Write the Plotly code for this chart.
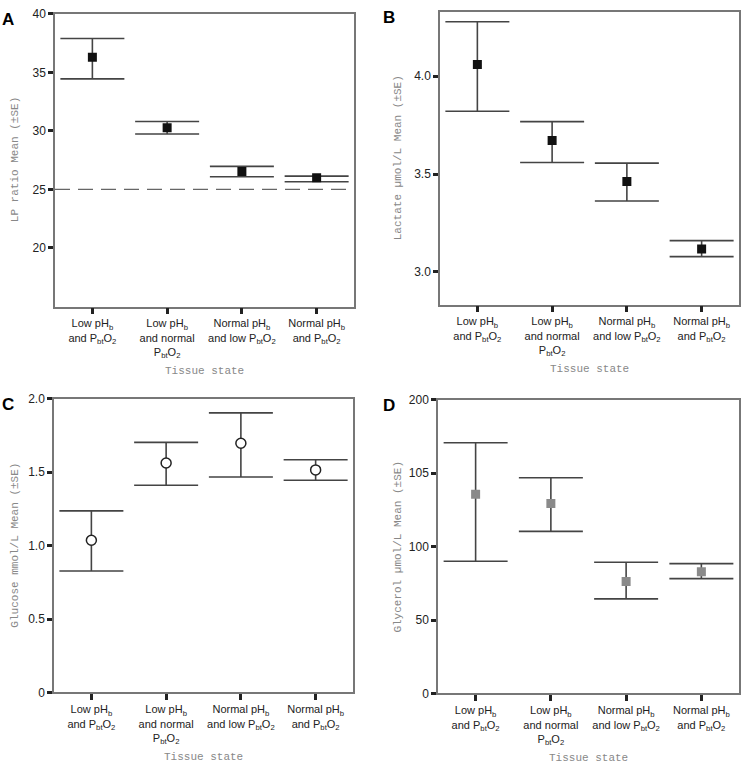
import plotly.graph_objects as go

W, H = 741, 778

categories = [
    "Low pH<sub>b</sub><br>and P<sub>bt</sub>O<sub>2</sub>",
    "Low pH<sub>b</sub><br>and normal<br>P<sub>bt</sub>O<sub>2</sub>",
    "Normal pH<sub>b</sub><br>and low P<sub>bt</sub>O<sub>2</sub>",
    "Normal pH<sub>b</sub><br>and P<sub>bt</sub>O<sub>2</sub>",
]

lp_mean = [36.3, 30.27, 26.53, 26.0]
lp_upper = [37.9, 30.8, 26.97, 26.14]
lp_lower = [34.45, 29.74, 26.08, 25.66]

lac_mean = [4.06, 3.671, 3.462, 3.117]
lac_upper = [4.279, 3.768, 3.556, 3.16]
lac_lower = [3.821, 3.559, 3.362, 3.078]

glu_mean = [1.037, 1.563, 1.697, 1.516]
glu_upper = [1.237, 1.703, 1.904, 1.585]
glu_lower = [0.827, 1.411, 1.467, 1.445]

gly_mean = [135.6, 129.3, 76.2, 82.9]
gly_upper = [170.7, 146.9, 89.3, 88.4]
gly_lower = [90.0, 110.4, 64.4, 78.2]

lp_ticks = [20, 25, 30, 35, 40]
lp_ticktext = ["20", "25", "30", "35", "40"]
lac_ticks = [3.0, 3.5, 4.0]
lac_ticktext = ["3.0", "3.5", "4.0"]
glu_ticks = [0, 0.5, 1.0, 1.5, 2.0]
glu_ticktext = ["0", "0.5", "1.0", "1.5", "2.0"]
gly_ticks = [0, 50, 100, 150, 200]
gly_ticktext = ["0", "50", "100", "105", "200"]

lp_ref = 25

panels = [
    dict(letter="A", mean=lp_mean, up=lp_upper, lo=lp_lower, rng=[15, 40],
         tv=lp_ticks, tt=lp_ticktext, ylab="LP ratio Mean (±SE)",
         px=(55, 354), py=(7, 305), marker=dict(symbol="square", size=9, color="#111")),
    dict(letter="B", mean=lac_mean, up=lac_upper, lo=lac_lower, rng=[2.833, 4.329],
         tv=lac_ticks, tt=lac_ticktext, ylab="Lactate µmol/L Mean (±SE)",
         px=(440, 739), py=(5, 303), marker=dict(symbol="square", size=9, color="#111")),
    dict(letter="C", mean=glu_mean, up=glu_upper, lo=glu_lower, rng=[0, 2.0],
         tv=glu_ticks, tt=glu_ticktext, ylab="Glucose mmol/L Mean (±SE)",
         px=(54, 353), py=(399, 698),
         marker=dict(symbol="circle", size=10, color="white", line=dict(color="#222", width=1.5))),
    dict(letter="D", mean=gly_mean, up=gly_upper, lo=gly_lower, rng=[0, 200],
         tv=gly_ticks, tt=gly_ticktext, ylab="Glycerol µmol/L Mean (±SE)",
         px=(438, 739), py=(400, 699), marker=dict(symbol="square", size=9, color="#8a8a8a")),
]

fig = go.Figure()
layout = dict(
    width=W, height=H, margin=dict(l=0, r=0, t=0, b=0),
    paper_bgcolor="white", plot_bgcolor="white", showlegend=False,
    font=dict(family="Liberation Sans, Arial, sans-serif", color="#222"),
)
annotations = []
shapes = []

for i, p in enumerate(panels):
    n = "" if i == 0 else str(i + 1)
    xa, ya = "x" + n, "y" + n
    fig.add_trace(go.Scatter(
        x=[0, 1, 2, 3], y=p["mean"], mode="markers", marker=p["marker"],
        xaxis=xa, yaxis=ya,
        error_y=dict(type="data", symmetric=False,
                     array=[u - m for u, m in zip(p["up"], p["mean"])],
                     arrayminus=[m - l for m, l in zip(p["mean"], p["lo"])],
                     color="#444", thickness=1.6, width=32),
    ))
    x0, x1 = p["px"]
    y0, y1 = p["py"]
    layout["xaxis" + n] = dict(
        domain=[x0 / W, x1 / W], anchor=ya, range=[-0.5, 3.5],
        tickvals=[0, 1, 2, 3], ticktext=categories, ticks="outside", ticklen=6,
        tickwidth=2.5, tickcolor="#222", showline=True, linecolor="#777", linewidth=1.5,
        mirror=True, showgrid=False, zeroline=False,
        tickfont=dict(size=11, color="#222"),
    )
    layout["yaxis" + n] = dict(
        domain=[1 - y1 / H, 1 - y0 / H], anchor=xa, range=p["rng"],
        tickvals=p["tv"], ticktext=p["tt"], ticks="outside", ticklen=5,
        tickwidth=2.5, tickcolor="#222", showline=True, linecolor="#777", linewidth=1.5,
        mirror=True, showgrid=False, zeroline=False,
        tickfont=dict(size=12, color="#222"),
    )
    annotations.append(dict(
        text="<b>%s</b>" % p["letter"], xref="paper", yref="paper",
        x=(0 if i % 2 == 0 else 381) / W, y=1 - (y0 - 6) / H,
        xanchor="left", yanchor="top", showarrow=False,
        font=dict(size=17, color="#000", family="Liberation Sans, Arial, sans-serif"),
    ))
    annotations.append(dict(
        text=p["ylab"], xref="paper", yref="paper",
        x=(15 if i % 2 == 0 else 398) / W, y=1 - ((y0 + y1) / 2) / H,
        xanchor="center", yanchor="middle", textangle=-90, showarrow=False,
        font=dict(size=11, color="#888", family="Liberation Mono, Courier New, monospace"),
    ))
    annotations.append(dict(
        text="Tissue state", xref="paper", yref="paper",
        x=((x0 + x1) / 2) / W, y=1 - (y1 + 66) / H,
        xanchor="center", yanchor="middle", showarrow=False,
        font=dict(size=11, color="#888", family="Liberation Mono, Courier New, monospace"),
    ))

shapes.append(dict(
    type="line", xref="x domain", yref="y", x0=0, x1=1, y0=lp_ref, y1=lp_ref,
    line=dict(color="#666", width=1.3, dash="15px,8px"), layer="below",
))

layout["annotations"] = annotations
layout["shapes"] = shapes
fig.update_layout(**layout)
fig.write_html(
    "out.html",
    config={"displayModeBar": False},
    post_script="document.body.style.margin='0';document.body.style.padding='0';"
                "document.body.style.overflow='hidden';",
)
